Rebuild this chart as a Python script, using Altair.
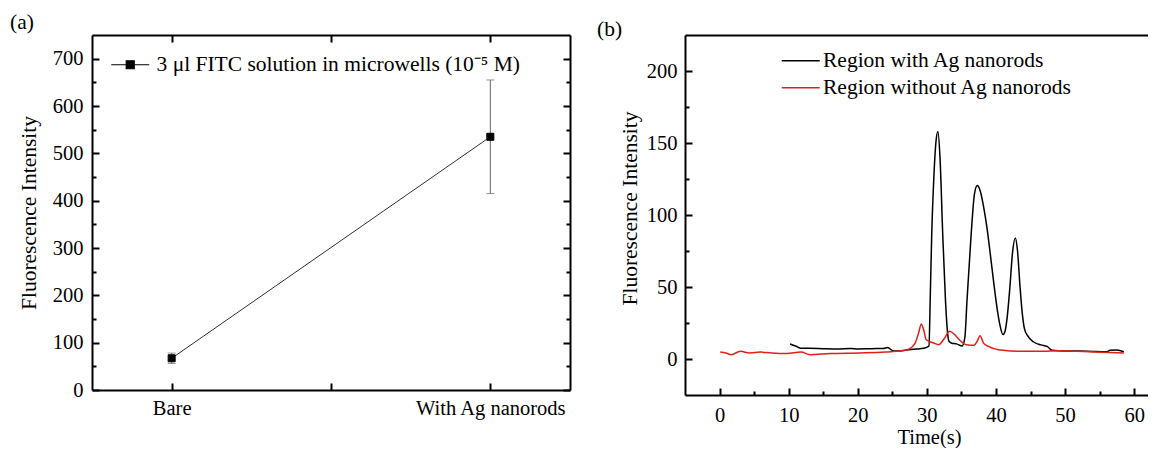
import altair as alt
import pandas as pd

FONT = "Liberation Serif"

# ---------------- panel (a) data ----------------
a_x = [1, 2]
a_labels = ["Bare", "With Ag nanorods"]
a_mean = [67, 535]
a_err = [11, 120]
a_series = "3 μl FITC solution in microwells (10⁻⁵ M)"
a_yticks = [0, 100, 200, 300, 400, 500, 600, 700]
a_yminor = [50, 150, 250, 350, 450, 550, 650]
a_xticks = [1, 1.5, 2]

# ---------------- panel (b) data ----------------
b_names = ["Region with Ag nanorods", "Region without Ag nanorods"]
b_with_t = [10.2, 11.0, 11.7, 13.0, 15.0, 17.0, 19.0, 20.0, 22.0, 23.7, 24.3, 25.2,
            26.0, 27.0, 28.0, 29.0, 29.8, 30.3, 30.5, 30.7, 31.0, 31.3, 31.6, 31.9,
            32.3, 32.7, 33.0, 33.2, 33.6, 34.3, 35.1, 35.5, 35.8, 36.4, 36.9, 37.3,
            37.7, 38.2, 38.7, 39.2, 39.7, 40.2, 40.6, 41.0, 41.3, 41.6, 42.0, 42.4,
            42.8, 43.1, 43.5, 43.8, 44.1, 44.6, 45.4, 46.5, 47.4, 48.1, 50.0, 52.0,
            54.0, 56.0, 56.5, 57.5, 58.5]
b_with_v = [10.4, 9.0, 7.5, 7.5, 7.2, 7.0, 7.3, 7.0, 7.2, 7.3, 8.0, 5.5,
            5.6, 6.2, 6.8, 7.2, 7.8, 9.0, 45.0, 86.0, 125.0, 150.0, 158.0, 140.0,
            86.0, 40.0, 18.0, 12.3, 11.0, 10.5, 9.0, 15.0, 40.0, 86.0, 115.0, 120.4,
            117.0, 106.0, 91.0, 72.0, 52.0, 34.0, 23.0, 17.0, 19.0, 28.0, 49.0, 74.0,
            84.0, 76.0, 49.0, 32.0, 21.5, 16.0, 12.0, 9.8, 8.8, 6.0, 5.5, 5.5,
            5.2, 5.0, 6.0, 6.2, 5.0]
b_without_t = [0.1, 0.9, 1.7, 3.0, 4.4, 5.9, 7.5, 9.7, 11.8, 13.1, 16.0, 20.3,
               24.0, 25.6, 26.4, 27.2, 28.3, 28.8, 29.2, 29.6, 29.9, 31.0, 31.7, 32.5,
               33.3, 34.0, 34.7, 35.7, 36.8, 37.3, 37.7, 38.2, 38.9, 41.0, 43.7, 46.8,
               49.0, 51.7, 54.3, 56.4, 58.5]
b_without_v = [4.8, 4.2, 3.0, 5.3, 4.2, 4.8, 4.2, 3.8, 4.9, 3.0, 3.8, 4.2,
               4.8, 5.3, 5.8, 6.5, 11.1, 18.0, 24.3, 19.0, 13.4, 11.1, 9.9, 14.0,
               19.2, 17.0, 13.4, 9.9, 9.5, 12.5, 16.2, 11.0, 8.8, 6.0, 5.3, 5.3,
               5.8, 5.3, 4.9, 4.5, 4.2]
b_yticks = [0, 50, 100, 150, 200]
b_yminor = [25, 75, 125, 175]
b_xticks = [0, 10, 20, 30, 40, 50, 60]
b_xminor = [5, 15, 25, 35, 45, 55]

# ---------------- frames ----------------
df_a = pd.DataFrame({
    "x": a_x,
    "y": a_mean,
    "lo": [m - e for m, e in zip(a_mean, a_err)],
    "hi": [m + e for m, e in zip(a_mean, a_err)],
    "series": [a_series] * len(a_x),
})
df_with = pd.DataFrame({"t": b_with_t, "v": b_with_v, "series": b_names[0]})
df_without = pd.DataFrame({"t": b_without_t, "v": b_without_v, "series": b_names[1]})

WA, HA = 478, 355
WB, HB = 463, 360

LW = 2.0
TICK_FS = 20.5
TITLE_FS = 21.5
LEG_FS = 21.5


def tick_axis(orient, offset, values, size, domain=False):
    return alt.Axis(orient=orient, offset=offset, values=values, tickSize=size,
                    ticks=True, labels=False, domain=domain, title=None, grid=False,
                    tickColor="black", tickWidth=LW, domainColor="black", domainWidth=LW)


# ---------------- panel (a) ----------------
xa_scale = alt.Scale(domain=[0.75, 2.25], nice=False, zero=False)
ya_scale = alt.Scale(domain=[0, 750], nice=False, zero=False)

label_expr = " : ".join(
    [f"datum.value == {v} ? '{l}'" for v, l in zip(a_x, a_labels)]) + " : ''"

base_a = alt.Chart(df_a)

line_a = base_a.mark_line(color="#1a1a1a", strokeWidth=0.9).encode(
    x=alt.X("x:Q", scale=xa_scale, title=None,
            axis=alt.Axis(values=a_x, labelExpr=label_expr, ticks=False, domain=False,
                          labelPadding=8, labelFlush=False, title=None, grid=False)),
    y=alt.Y("y:Q", scale=ya_scale,
            axis=alt.Axis(values=a_yticks, ticks=False, domain=False, labelPadding=9,
                          title="Fluorescence Intensity", titlePadding=12, grid=False)),
)

err_a = base_a.mark_errorbar(color="#666666", ticks={"size": 8, "thickness": 1}).encode(
    x=alt.X("x:Q", scale=xa_scale, axis=None),
    y=alt.Y("lo:Q", scale=ya_scale, axis=None, title=None),
    y2="hi:Q",
)

legend_a = alt.Legend(
    title=None, orient="none", legendX=27.5, legendY=19, padding=0,
    symbolType="M-2,0H2M-0.42,-0.42H0.42V0.42H-0.42Z", symbolSize=361,
    symbolStrokeColor="black", symbolFillColor="black", symbolStrokeWidth=1.2,
    labelFont=FONT, labelFontSize=LEG_FS, labelColor="black", labelLimit=800,
    labelOffset=15.5,
)

pts_a = base_a.mark_square(size=49, filled=True, stroke="black", strokeWidth=1, opacity=1).encode(
    x=alt.X("x:Q", scale=xa_scale, axis=tick_axis("top", -HA, a_xticks, 7, domain=True)),
    y=alt.Y("y:Q", scale=ya_scale, axis=tick_axis("right", -WA, a_yticks, 7, domain=True)),
    color=alt.Color("series:N", scale=alt.Scale(domain=[a_series], range=["black"]),
                    legend=legend_a),
)

dum_a1 = base_a.mark_point(opacity=0).encode(
    x=alt.X("x:Q", scale=xa_scale, axis=tick_axis("bottom", -HA, a_xticks, 7, domain=True)),
    y=alt.Y("y:Q", scale=ya_scale, axis=tick_axis("right", -WA, a_yminor, 4)),
)
dum_a2 = base_a.mark_point(opacity=0).encode(
    x=alt.X("x:Q", scale=xa_scale, axis=None),
    y=alt.Y("y:Q", scale=ya_scale, axis=tick_axis("left", -WA, a_yticks, 7, domain=True)),
)
dum_a3 = base_a.mark_point(opacity=0).encode(
    x=alt.X("x:Q", scale=xa_scale, axis=None),
    y=alt.Y("y:Q", scale=ya_scale, axis=tick_axis("left", -WA, a_yminor, 4)),
)

panel_a = alt.layer(line_a, err_a, pts_a, dum_a1, dum_a2, dum_a3).resolve_axis(
    x="independent", y="independent"
).properties(
    width=WA, height=HA,
    title=alt.TitleParams("(a)", anchor="start", frame="group", dx=-82, offset=1,
                          fontSize=TITLE_FS, font=FONT, fontWeight="normal", color="black"),
)

# ---------------- panel (b) ----------------
xb_scale = alt.Scale(domain=[-5, 62], nice=False, zero=False)
yb_scale = alt.Scale(domain=[-25, 225], nice=False, zero=False)

legend_b = alt.Legend(
    title=None, orient="none", legendX=105, legendY=15, padding=0,
    symbolType="M-2,0H2", symbolSize=361, symbolStrokeWidth=1.5,
    labelFont=FONT, labelFontSize=LEG_FS, labelColor="black", labelLimit=800,
    labelOffset=11.5, rowPadding=4,
)
color_b = alt.Color("series:N", scale=alt.Scale(domain=b_names, range=["#000000", "#e0201a"]),
                    legend=legend_b)

line_with = alt.Chart(df_with).mark_line(strokeWidth=1.5, interpolate="monotone").encode(
    x=alt.X("t:Q", scale=xb_scale,
            axis=alt.Axis(values=b_xticks, ticks=False, domain=True, labelPadding=10,
                          labelFlush=False, title="Time(s)", titlePadding=2, titleX=244,
                          titleFontSize=20.5,
                          grid=False, domainColor="black", domainWidth=LW)),
    y=alt.Y("v:Q", scale=yb_scale,
            axis=alt.Axis(values=b_yticks, ticks=False, domain=True, labelPadding=8,
                          title="Fluorescence Intensity", titlePadding=5, titleY=173,
                          grid=False, domainColor="black", domainWidth=LW)),
    color=color_b,
)
line_without = alt.Chart(df_without).mark_line(strokeWidth=1.5, interpolate="monotone").encode(
    x=alt.X("t:Q", scale=xb_scale, axis=None),
    y=alt.Y("v:Q", scale=yb_scale, axis=None),
    color=color_b,
)
dum_b1 = alt.Chart(df_with).mark_point(opacity=0).encode(
    x=alt.X("t:Q", scale=xb_scale, axis=tick_axis("top", -HB, b_xticks, 7)),
    y=alt.Y("v:Q", scale=yb_scale, axis=tick_axis("right", -WB, b_yticks, 7)),
)
dum_b2 = alt.Chart(df_with).mark_point(opacity=0).encode(
    x=alt.X("t:Q", scale=xb_scale, axis=tick_axis("top", -HB, b_xminor, 4)),
    y=alt.Y("v:Q", scale=yb_scale, axis=tick_axis("right", -WB, b_yminor, 4)),
)
dum_b3 = alt.Chart(df_with).mark_point(opacity=0).encode(
    x=alt.X("t:Q", scale=xb_scale,
            axis=alt.Axis(orient="top", ticks=False, labels=False, domain=True, title=None,
                          grid=False, domainColor="black", domainWidth=LW)),
    y=alt.Y("v:Q", scale=yb_scale, axis=None),
)

panel_b = alt.layer(line_with, line_without, dum_b1, dum_b2, dum_b3).resolve_axis(
    x="independent", y="independent"
).properties(
    width=WB, height=HB,
    title=alt.TitleParams("(b)", anchor="start", frame="group", dx=-88, offset=1, dy=6,
                          fontSize=TITLE_FS, font=FONT, fontWeight="normal", color="black"),
)

chart = alt.HConcatChart(hconcat=[panel_a, panel_b], spacing=115, bounds="flush").resolve_scale(
    color="independent"
).resolve_legend(color="independent").properties(
    padding={"left": 2, "top": 3, "right": 0, "bottom": 0}
).configure_view(stroke=None).configure_axis(
    labelFont=FONT, labelFontSize=TICK_FS, labelColor="black",
    titleFont=FONT, titleFontSize=TITLE_FS, titleFontWeight="normal", titleColor="black",
    grid=False, domainColor="black", tickColor="black",
)

chart.save("out.html", embed_options={"renderer": "svg", "actions": False})
